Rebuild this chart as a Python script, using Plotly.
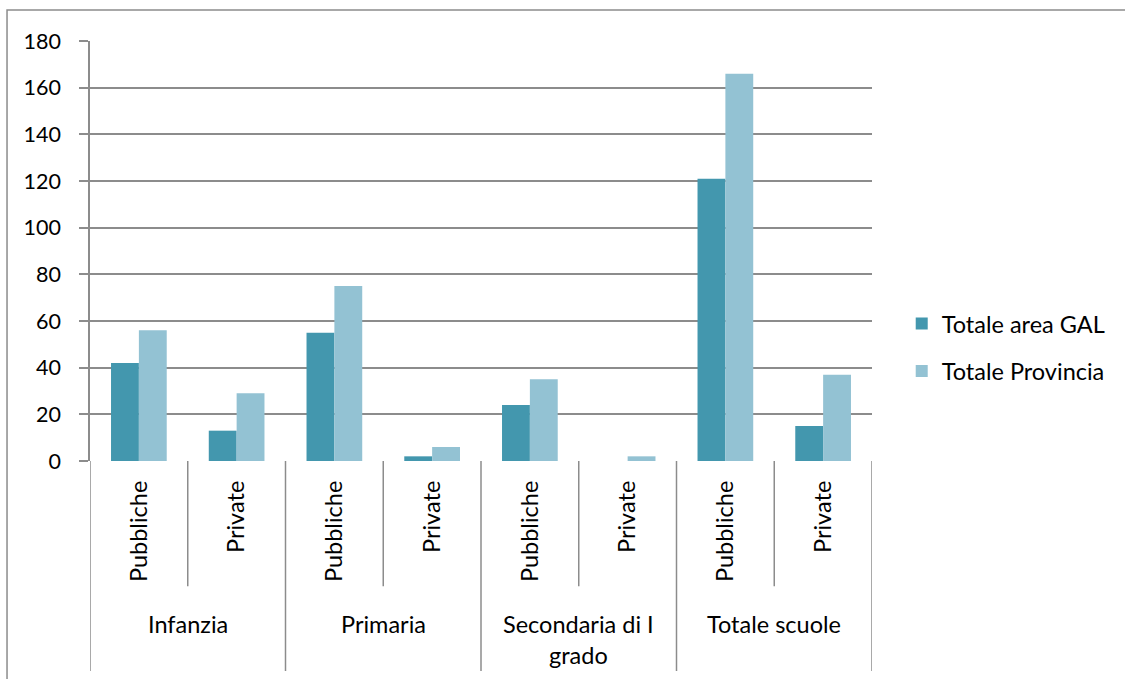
import plotly.graph_objects as go

# Data: number of schools by level and type
levels = ["Infanzia", "Primaria", "Secondaria di I<br>grado", "Totale scuole"]
types = ["Pubbliche", "Private"]
gal = [42, 13, 55, 2, 24, 0, 121, 15]
provincia = [56, 29, 75, 6, 35, 2, 166, 37]
y_ticks = [0, 20, 40, 60, 80, 100, 120, 140, 160, 180]

sub_labels = types * len(levels)
x_pos = list(range(len(sub_labels)))

FONT = "Lato"
GRID = "#8c8c8c"
TXT = 23.5

fig = go.Figure()
fig.add_trace(go.Bar(x=x_pos, y=gal, name="Totale area GAL",
                     marker=dict(color="#4397ae", line=dict(width=0)),
                     legendgroup="a"))
fig.add_trace(go.Bar(x=x_pos, y=provincia, name="Totale Provincia",
                     marker=dict(color="#93c2d3", line=dict(width=0)),
                     legendgroup="b"))

shapes = []
# outer chart border
shapes.append(dict(type="rect", xref="paper", yref="paper",
                   x0=-0.1061, x1=1.6, y0=-0.7, y1=1.0737,
                   line=dict(color=GRID, width=1.5), layer="below"))
# dividers between sub-categories and between groups
for i in range(len(sub_labels) + 1):
    xv = i - 0.5
    depth = -0.50 if i % 2 == 0 else -0.298
    shapes.append(dict(type="line", xref="x", yref="paper",
                       x0=xv, x1=xv, y0=0, y1=depth,
                       line=dict(color=GRID, width=1.5)))

annotations = []
for g, name in enumerate(levels):
    annotations.append(dict(x=2 * g + 0.5, y=-0.35, xref="x", yref="paper",
                            text=name, showarrow=False, yanchor="top",
                            font=dict(family=FONT, size=TXT, color="#000000")))

fig.update_layout(
    width=1125, height=679,
    margin=dict(l=90, r=253, t=41, b=217.5),
    paper_bgcolor="white", plot_bgcolor="white",
    barmode="group", bargap=0.43, bargroupgap=0,
    font=dict(family=FONT, size=TXT, color="#000000"),
    shapes=shapes, annotations=annotations,
    showlegend=True,
    legend=dict(x=1.038, y=0.27, xanchor="left", yanchor="middle",
                traceorder="grouped", tracegroupgap=14,
                font=dict(family=FONT, size=TXT, color="#000000"),
                bgcolor="rgba(0,0,0,0)"),
)
fig.update_xaxes(
    range=[-0.5, len(sub_labels) - 0.5],
    tickmode="array", tickvals=x_pos, ticktext=sub_labels,
    tickangle=-90, ticks="", ticklabelstandoff=14,
    showgrid=False, zeroline=False, showline=False,
    tickfont=dict(family=FONT, size=TXT, color="#000000"),
)
fig.update_yaxes(
    range=[0, 180], tickmode="array", tickvals=y_ticks,
    showgrid=True, gridcolor=GRID, gridwidth=1.5,
    showline=True, linecolor=GRID, linewidth=1.5,
    ticks="outside", ticklen=9, tickcolor=GRID, tickwidth=1.5,
    ticklabelstandoff=14, zeroline=False,
    tickfont=dict(family=FONT, size=21.5, color="#000000"),
)

fig.write_html("out.html")
